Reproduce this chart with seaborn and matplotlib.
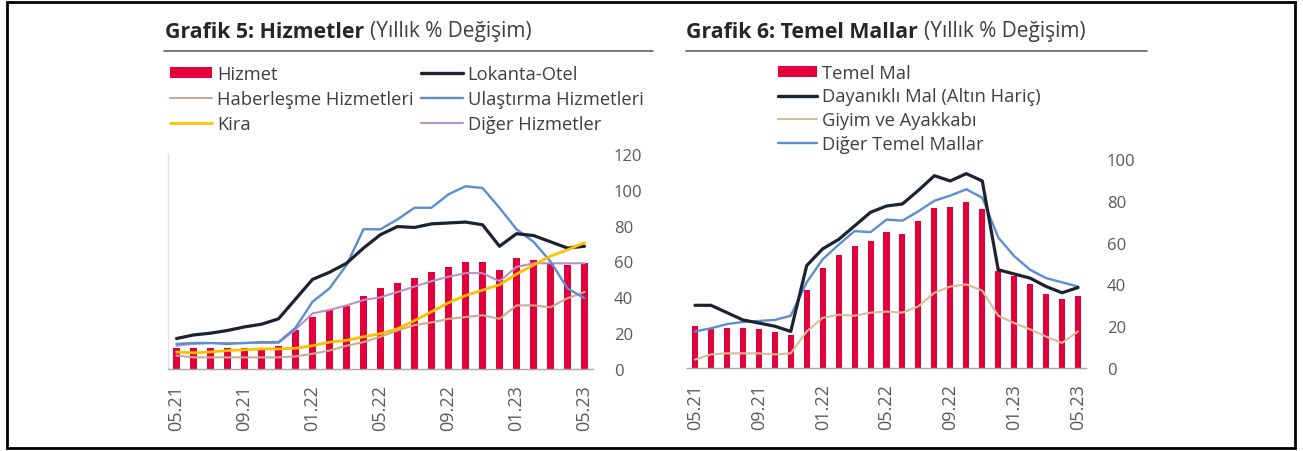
import numpy as np
import pandas as pd
import matplotlib
matplotlib.use("Agg")
import matplotlib.pyplot as plt
import seaborn as sns
from matplotlib.patches import Patch, Rectangle
from matplotlib.lines import Line2D

# ---------------- data ----------------
months = ["05.21", "06.21", "07.21", "08.21", "09.21", "10.21", "11.21", "12.21",
          "01.22", "02.22", "03.22", "04.22", "05.22", "06.22", "07.22", "08.22",
          "09.22", "10.22", "11.22", "12.22", "01.23", "02.23", "03.23", "04.23", "05.23"]
tick_labels = ["05.21", "09.21", "01.22", "05.22", "09.22", "01.23", "05.23"]

# Grafik 5: Hizmetler
hizmet = [12, 12, 12, 12, 12, 12, 13, 21.5, 29, 33, 35, 41, 45, 48, 51, 54, 57, 59.5, 60, 55, 62, 61, 59, 58, 59]
lokanta_otel = [17, 19, 20, 21.5, 23.5, 25, 28, 39, 50, 54, 59, 67.5, 75, 79.5, 79, 81, 81.5, 82, 80.5, 68.5, 75.5, 74.5, 71, 67.5, 68.5]
haberlesme = [7.5, 6.5, 6.5, 6.5, 6.5, 6.5, 6.5, 7, 8.5, 10.3, 13, 15, 18, 21.5, 24.5, 26, 28, 29, 30, 28, 35.5, 35.5, 34.5, 39.5, 43]
ulastirma = [14, 14.5, 14.5, 14, 14.5, 15, 15, 23, 37.5, 45, 58, 78, 78, 83.5, 90, 90, 97.5, 102, 101, 90, 78, 71, 60, 45, 39.5]
kira = [9.5, 9, 9.5, 10.3, 10.7, 11.2, 11.2, 11.6, 13, 15, 16, 18, 19.7, 22.5, 27, 32, 37, 41, 44, 47, 53, 58, 63, 66.5, 70.5]
diger_hizmetler = [13, 14, 14.5, 14.5, 14.5, 14.5, 14.5, 22, 31, 33, 35.5, 38.5, 40, 43, 46, 49, 51.5, 53.5, 53.5, 49, 57, 59, 59, 59, 59]

# Grafik 6: Temel Mallar
temel_mal = [20, 18.5, 19, 19, 18.5, 17, 16, 37.5, 48, 54, 58.5, 61, 65, 64, 70.5, 76.5, 77, 79.5, 76, 46.5, 44, 40, 35.5, 33, 34.5]
dayanikli = [30, 30, 26.5, 23, 21.5, 20, 17.5, 49, 57, 61.5, 68, 74.5, 77.5, 78.5, 85, 92, 89.5, 93, 89.5, 47, 45, 43, 39, 36, 38.5]
giyim = [4, 6.5, 7, 7, 7, 6.5, 7, 17.5, 24, 25.5, 25, 26.5, 27, 26.5, 29.5, 36, 39, 40, 37, 25, 21.5, 18.5, 15, 12, 17.5]
diger_temel = [17.5, 19, 21, 22, 22.5, 23, 25, 41, 52, 59, 65.5, 65, 71, 70.5, 75, 80, 82.5, 85.5, 81.5, 62.5, 53.5, 47, 43, 41, 39]

df5 = pd.DataFrame({"month": months, "Hizmet": hizmet, "Lokanta-Otel": lokanta_otel,
                    "Haberleşme Hizmetleri": haberlesme, "Ulaştırma Hizmetleri": ulastirma,
                    "Kira": kira, "Diğer Hizmetler": diger_hizmetler})
df6 = pd.DataFrame({"month": months, "Temel Mal": temel_mal, "Dayanıklı Mal (Altın Hariç)": dayanikli,
                    "Giyim ve Ayakkabı": giyim, "Diğer Temel Mallar": diger_temel})
df5["pos"] = range(len(months))
df6["pos"] = range(len(months))

# ---------------- style ----------------
RED = "#E3003B"
BLACK = "#1C2230"
BLUE = "#5A8ED0"
GOLD = "#FFC000"
TAN = "#C9AC92"
PURPLE = "#B592C6"
KHAKI = "#D8BE96"
TICKC = "#595959"
TEXTC = "#3F3F3F"

sns.set_theme(style="white")
plt.rcParams["font.family"] = ["Open Sans", "DejaVu Sans"]

W, H = 1303, 452
fig = plt.figure(figsize=(W / 100, H / 100), dpi=100)
fig.patch.set_facecolor("white")

ax1 = fig.add_axes([168 / W, 1 - 370 / H, 425 / W, 215 / H])
ax2 = fig.add_axes([687 / W, 1 - 369 / H, 399 / W, 209 / H])


def draw_panel(ax, df, bar_col, lines, ymax, ystep, left_spine):
    sns.barplot(data=df, x="month", y=bar_col, order=months, color=RED, saturation=1,
                width=0.38, ax=ax, linewidth=0)
    for col, color, lw in lines:
        sns.lineplot(data=df, x="pos", y=col, color=color, linewidth=lw, ax=ax,
                     solid_joinstyle="round", solid_capstyle="round")
    ax.set_xlim(-0.5, len(months) - 0.5)
    ax.set_ylim(0, ymax)
    ax.set_yticks(np.arange(0, ymax + 1, ystep))
    ax.yaxis.tick_right()
    ax.tick_params(axis="y", length=0, pad=15, labelsize=12, labelcolor=TICKC)
    ax.set_xticks([months.index(t) for t in tick_labels])
    ax.set_xticklabels(tick_labels, rotation=90)
    ax.tick_params(axis="x", length=0, pad=11, labelsize=13, labelcolor=TICKC)
    ax.set_xlabel("")
    ax.set_ylabel("")
    ax.set_facecolor("none")
    for s in ["top", "right"]:
        ax.spines[s].set_visible(False)
    ax.spines["bottom"].set_color("#A6A6A6")
    ax.spines["bottom"].set_linewidth(1.0)
    if left_spine:
        ax.spines["left"].set_color("#E3E3E3")
        ax.spines["left"].set_linewidth(1.0)
    else:
        ax.spines["left"].set_visible(False)
    ax.grid(False)


lines5 = [("Haberleşme Hizmetleri", TAN, 1.5),
          ("Diğer Hizmetler", PURPLE, 1.5),
          ("Ulaştırma Hizmetleri", BLUE, 1.7),
          ("Lokanta-Otel", BLACK, 2.3),
          ("Kira", GOLD, 2.0)]
draw_panel(ax1, df5, "Hizmet", lines5, 120, 20, True)

lines6 = [("Giyim ve Ayakkabı", KHAKI, 1.5),
          ("Diğer Temel Mallar", BLUE, 1.7),
          ("Dayanıklı Mal (Altın Hariç)", BLACK, 2.3)]
draw_panel(ax2, df6, "Temel Mal", lines6, 100, 20, False)

# ---------------- legends ----------------
h5 = [Patch(facecolor=RED, edgecolor="none"),
      Line2D([], [], color=TAN, lw=1.5),
      Line2D([], [], color=GOLD, lw=2.0),
      Line2D([], [], color=BLACK, lw=2.4),
      Line2D([], [], color=BLUE, lw=1.7),
      Line2D([], [], color=PURPLE, lw=1.5)]
l5 = ["Hizmet", "Haberleşme Hizmetleri", "Kira", "Lokanta-Otel", "Ulaştırma Hizmetleri", "Diğer Hizmetler"]
leg1 = ax1.legend(h5, l5, ncol=2, loc="upper left", bbox_to_anchor=(170 / W, 1 - 66 / H),
                  bbox_transform=fig.transFigure, frameon=False, fontsize=13.2,
                  handlelength=2.3, handleheight=0.5, handletextpad=0.27,
                  labelspacing=0.38, columnspacing=0.38, borderpad=0, borderaxespad=0)
for t in leg1.get_texts():
    t.set_color(TEXTC)

h6 = [Patch(facecolor=RED, edgecolor="none"),
      Line2D([], [], color=BLACK, lw=2.4),
      Line2D([], [], color=KHAKI, lw=1.5),
      Line2D([], [], color=BLUE, lw=1.7)]
l6 = ["Temel Mal", "Dayanıklı Mal (Altın Hariç)", "Giyim ve Ayakkabı", "Diğer Temel Mallar"]
leg2 = ax2.legend(h6, l6, ncol=1, loc="upper left", bbox_to_anchor=(778 / W, 1 - 65 / H),
                  bbox_transform=fig.transFigure, frameon=False, fontsize=13.2,
                  handlelength=2.15, handleheight=0.5, handletextpad=0.27,
                  labelspacing=0.3, borderpad=0, borderaxespad=0)
for t in leg2.get_texts():
    t.set_color(TEXTC)

# ---------------- titles ----------------
fig.canvas.draw()
renderer = fig.canvas.get_renderer()


def title(x, bold, rest, line_x0, line_x1):
    t = fig.text(x / W, 1 - 32 / H, bold, fontsize=15.3, fontweight="bold", color="#262626",
                 va="center", ha="left")
    bb = t.get_window_extent(renderer)
    fig.text((bb.x1 + 6) / W, 1 - 32 / H, rest, fontsize=15, color=TEXTC, va="center", ha="left")
    fig.add_artist(Line2D([line_x0 / W, line_x1 / W], [1 - 52 / H, 1 - 52 / H],
                          transform=fig.transFigure, color="#6E6E6E", lw=1.3))


title(165, "Grafik 5: Hizmetler", "(Yıllık % Değişim)", 164, 653)
title(686, "Grafik 6: Temel Mallar", "(Yıllık % Değişim)", 686, 1147)

# outer frame
fig.add_artist(Rectangle((7 / W, 3 / H), (1295 - 7) / W, (449 - 3) / H, transform=fig.transFigure,
                         fill=False, edgecolor="black", lw=2))

fig.savefig("out.png", dpi=100, facecolor="white")
